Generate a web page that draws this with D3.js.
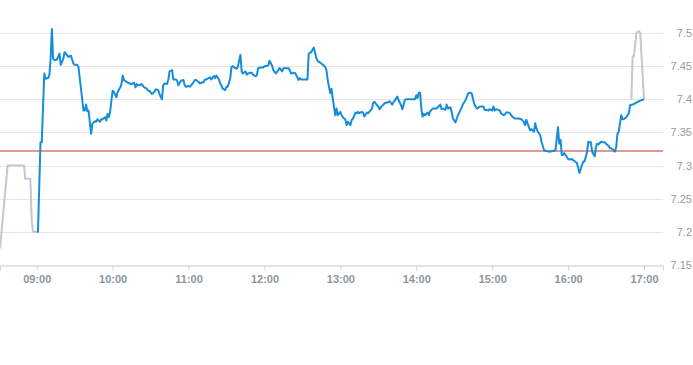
<!DOCTYPE html>
<html>
<head>
<meta charset="utf-8">
<script src="https://cdn.jsdelivr.net/npm/d3@7"></script>
<style>
  body { margin: 0; background: #fff; }
  svg { display: block; font-family: "Liberation Sans", Arial, sans-serif; }
</style>
</head>
<body>
<svg id="chart" width="693" height="365"></svg>
<script>
const prevClose = 7.322;
const yTicks = [7.15, 7.2, 7.25, 7.3, 7.35, 7.4, 7.45, 7.5];
const xTicks = ['09:00', '10:00', '11:00', '12:00', '13:00', '14:00', '15:00', '16:00', '17:00'];

// pre-market (grey)
const preTimes = ['08:31', '08:37', '08:50', '08:51', '08:55', '08:56', '08:57', '09:00'];
const prePrices = [7.175, 7.30, 7.30, 7.28, 7.28, 7.22, 7.20, 7.20];

// after close (grey)
const postTimes = ['16:50', '16:51', '16:52', '16:54', '16:56', '16:57', '17:00'];
const postPrices = [7.40, 7.465, 7.465, 7.50, 7.503, 7.50, 7.40];

// session (blue)
const times = [
  '09:00','09:01','09:03','09:04','09:06','09:07','09:09','09:10','09:11','09:12','09:13','09:14','09:16','09:18','09:19',
  '09:21','09:22','09:23','09:25','09:27','09:29','09:30','09:32','09:33','09:35','09:37','09:38','09:39','09:40','09:41',
  '09:43','09:44','09:46','09:47','09:48','09:50','09:51','09:52','09:54','09:55','09:56','09:57','09:58',
  '10:00','10:01','10:03','10:04','10:06','10:07','10:08','10:09','10:12','10:15','10:17','10:18','10:19','10:20','10:21',
  '10:23','10:24','10:25','10:27','10:28','10:29','10:31','10:33','10:34','10:36','10:37','10:39','10:40','10:41','10:43',
  '10:44','10:45','10:47','10:48','10:50','10:51','10:52','10:54','10:56','10:57','10:58',
  '11:00','11:01','11:02','11:04','11:05','11:06','11:08','11:09','11:10','11:12','11:13','11:14','11:16','11:17','11:18',
  '11:20','11:21','11:22','11:24','11:25','11:26','11:27','11:29','11:30','11:31','11:33','11:34','11:35','11:37','11:38',
  '11:39','11:41','11:42','11:43','11:45','11:46','11:47','11:49','11:50','11:51','11:53','11:54','11:55','11:57','11:59',
  '12:00','12:03','12:04','12:06','12:07','12:09','12:11','12:12','12:14','12:15','12:16','12:19','12:20','12:21','12:24',
  '12:25','12:27','12:28','12:29','12:31','12:32','12:34','12:35','12:37','12:38','12:39','12:41','12:42','12:45','12:48',
  '12:49','12:50','12:52','12:53','12:54','12:56','12:57','12:58',
  '13:00','13:01','13:02','13:04','13:05','13:06','13:08','13:09','13:10','13:12','13:13','13:14','13:15','13:17','13:18',
  '13:19','13:21','13:22','13:25','13:26','13:27','13:29','13:30','13:31','13:33','13:34','13:35','13:38','13:39','13:41',
  '13:42','13:43','13:44','13:45','13:46','13:48','13:49','13:51','13:52','13:55','13:58','13:59',
  '14:00','14:01','14:02','14:03','14:04','14:05','14:06','14:07','14:09','14:10','14:11','14:13','14:16','14:17','14:19',
  '14:20','14:21','14:23','14:24','14:25','14:27','14:28','14:29','14:31','14:32','14:33','14:35','14:36','14:37','14:39',
  '14:40','14:41','14:43','14:44','14:45','14:46','14:48','14:49','14:50','14:52','14:53','14:54','14:56','14:57','14:58',
  '15:00','15:01','15:02','15:03','15:05','15:06','15:07','15:09','15:10','15:11','15:13','15:14','15:15','15:17','15:18',
  '15:21','15:23','15:25','15:26','15:27','15:29','15:30','15:31','15:33','15:34','15:35','15:36','15:38','15:39','15:41',
  '15:43','15:46','15:48','15:50','15:52','15:53','15:54','15:55','15:56','15:57','15:59',
  '16:00','16:01','16:03','16:04','16:05','16:07','16:08','16:09','16:11','16:12','16:13','16:15','16:16','16:17','16:18',
  '16:19','16:21','16:22','16:23','16:24','16:26','16:28','16:29','16:31','16:32','16:33','16:34','16:36','16:37','16:38',
  '16:39','16:40','16:42','16:43','16:44','16:46','16:48','16:49','16:51','16:54','16:57','17:00'
];
const prices = [
  7.200,7.200,7.335,7.335,7.439,7.431,7.432,7.436,7.461,7.506,7.461,7.459,7.460,7.469,7.452,
  7.461,7.471,7.469,7.464,7.466,7.454,7.452,7.452,7.449,7.416,7.383,7.383,7.392,7.382,7.383,
  7.348,7.363,7.367,7.366,7.370,7.366,7.370,7.370,7.373,7.368,7.378,7.373,7.381,
  7.413,7.411,7.403,7.411,7.418,7.423,7.436,7.429,7.425,7.423,7.425,7.418,7.423,7.421,7.421,
  7.423,7.420,7.418,7.416,7.413,7.413,7.408,7.411,7.415,7.414,7.408,7.400,7.421,7.424,7.423,
  7.429,7.442,7.444,7.430,7.430,7.428,7.421,7.428,7.429,7.421,7.419,
  7.420,7.419,7.421,7.426,7.429,7.429,7.426,7.424,7.425,7.426,7.430,7.430,7.432,7.433,7.430,
  7.435,7.432,7.436,7.430,7.424,7.421,7.416,7.414,7.419,7.419,7.432,7.449,7.450,7.447,7.446,
  7.449,7.467,7.442,7.439,7.442,7.437,7.439,7.440,7.440,7.437,7.435,7.436,7.447,7.448,7.448,
  7.450,7.451,7.458,7.451,7.444,7.439,7.444,7.447,7.442,7.447,7.447,7.447,7.444,7.439,7.440,
  7.437,7.429,7.432,7.430,7.430,7.430,7.430,7.469,7.471,7.475,7.478,7.462,7.458,7.454,7.449,
  7.444,7.429,7.409,7.416,7.401,7.376,7.386,7.376,
  7.381,7.376,7.373,7.369,7.361,7.366,7.361,7.369,7.371,7.380,7.379,7.381,7.379,7.381,7.380,
  7.374,7.380,7.379,7.386,7.395,7.396,7.391,7.389,7.385,7.390,7.392,7.394,7.396,7.397,7.392,
  7.396,7.398,7.401,7.404,7.399,7.391,7.385,7.399,7.400,7.400,7.400,7.400,
  7.406,7.402,7.410,7.410,7.386,7.374,7.378,7.376,7.380,7.376,7.382,7.386,7.386,7.388,7.392,
  7.385,7.386,7.384,7.392,7.386,7.388,7.381,7.371,7.365,7.371,7.376,7.384,7.388,7.393,7.399,
  7.404,7.409,7.410,7.408,7.399,7.392,7.386,7.387,7.389,7.389,7.389,7.384,7.384,7.383,7.385,
  7.383,7.389,7.383,7.385,7.384,7.383,7.379,7.376,7.377,7.380,7.380,7.379,7.376,7.372,7.371,
  7.371,7.370,7.366,7.361,7.369,7.358,7.353,7.355,7.351,7.364,7.356,7.351,7.346,7.336,7.323,
  7.322,7.321,7.322,7.323,7.358,7.333,7.339,7.316,7.316,7.319,7.313,
  7.310,7.309,7.310,7.308,7.307,7.304,7.296,7.289,7.301,7.306,7.306,7.321,7.336,7.335,7.335,
  7.321,7.314,7.328,7.333,7.332,7.336,7.335,7.335,7.331,7.330,7.326,7.326,7.323,7.321,7.328,
  7.348,7.351,7.376,7.370,7.370,7.373,7.379,7.391,7.392,7.395,7.398,7.400
];

const parseTime = d3.timeParse('%H:%M');
const plotW = 663;

const svg = d3.select('#chart');

const x = d3.scaleTime()
    .domain([parseTime('08:31'), parseTime('17:15')])
    .range([0, plotW]);

const y = d3.scaleLinear()
    .domain([7.15, 7.5])
    .range([265, 33]);

// grid
svg.append('g')
    .selectAll('line')
    .data(yTicks)
    .enter().append('line')
    .attr('x1', 0)
    .attr('x2', plotW)
    .attr('y1', d => Math.round(y(d)) + 0.5)
    .attr('y2', d => Math.round(y(d)) + 0.5)
    .style('stroke', '#e6e6e6');

// x axis
const xAxis = svg.append('g')
    .attr('transform', 'translate(0,265.5)')
    .call(d3.axisBottom(x)
        .tickValues(xTicks.map(parseTime))
        .tickFormat(d3.timeFormat('%H:%M'))
        .tickSizeOuter(0)
        .tickSize(5)
        .tickPadding(5));
xAxis.select('.domain').style('stroke', '#ccd6eb');
xAxis.selectAll('.tick line').style('stroke', '#ccd6eb');
xAxis.selectAll('text')
    .style('font-size', '11px')
    .style('font-weight', 'bold')
    .style('fill', '#8d96a0');

// y labels on right
const yAxis = svg.append('g')
    .attr('transform', 'translate(692,0)')
    .call(d3.axisLeft(y)
        .tickValues(yTicks)
        .tickFormat(d => d3.format('')(+d.toFixed(2)))
        .tickSize(0)
        .tickPadding(0));
yAxis.select('.domain').remove();
yAxis.selectAll('text')
    .style('font-size', '11px')
    .style('fill', '#999');

// previous close
svg.append('line')
    .attr('x1', 0)
    .attr('x2', plotW)
    .attr('y1', y(prevClose))
    .attr('y2', y(prevClose))
    .style('stroke', '#d02c2c')
    .style('stroke-width', 1.1);

const line = d3.line()
    .x(d => x(d.t))
    .y(d => y(d.v));

const zip = (ts, vs) => ts.map((t, i) => ({ t: parseTime(t), v: vs[i] }));

[zip(preTimes, prePrices), zip(postTimes, postPrices)].forEach(data => {
    svg.append('path')
        .datum(data)
        .attr('d', line)
        .style('fill', 'none')
        .style('stroke', '#c0c8d1')
        .style('stroke-width', 2)
        .style('stroke-linejoin', 'round');
});

svg.append('path')
    .datum(zip(times, prices))
    .attr('d', line)
    .style('fill', 'none')
    .style('stroke', '#158ddb')
    .style('stroke-width', 2)
    .style('stroke-linejoin', 'round');
</script>
</body>
</html>
